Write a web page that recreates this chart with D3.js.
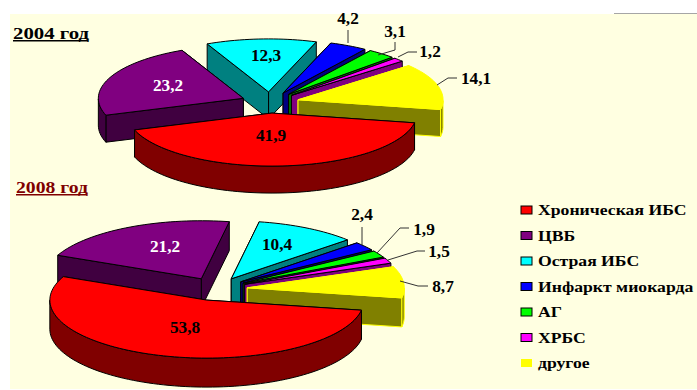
<!DOCTYPE html>
<html>
<head>
<meta charset="utf-8">
<script src="https://cdn.jsdelivr.net/npm/d3@7"></script>
<style>
html, body { margin: 0; padding: 0; background: #fff; }
svg { display: block; }
text { font-family: "Liberation Serif", serif; font-weight: bold; fill: #000; }
</style>
</head>
<body>
<svg id="chart" width="697" height="390"></svg>
<script>
// Causes of death, per cent, by survey year
const categories = ["Хроническая ИБС", "ЦВБ", "Острая ИБС", "Инфаркт миокарда", "АГ", "ХРБС", "другое"];
const values2004 = [41.9, 23.2, 12.3, 4.2, 3.1, 1.2, 14.1];
const values2008 = [53.8, 21.2, 10.4, 2.4, 1.9, 1.5, 8.7];
const topColors = ["#ff0000", "#800080", "#00ffff", "#0000ff", "#00ff00", "#ff00ff", "#ffff00"];
const sideColors = ["#800000", "#400040", "#008080", "#000080", "#008000", "#800080", "#808000"];
const edgeColors = ["#000", "#000", "#000", "#000", "#000", "#000", "#ffff00"];
const drawOrder2004 = [2, 3, 4, 5, 1, 6, 0];
const drawOrder2008 = [2, 3, 4, 5, 6, 1, 0];

const svg = d3.select("#chart");
const TAU = 2 * Math.PI;
const deg = d => d * Math.PI / 180;
const fmt = v => String(v).replace(".", ",");

svg.append("rect").attr("x", 10).attr("y", 14).attr("width", 687).attr("height", 375).attr("fill", "#ffffe1");
svg.append("line").attr("x1", 614).attr("x2", 697).attr("y1", 13.5).attr("y2", 13.5).attr("stroke", "#a6a6a6").attr("stroke-width", 1);

function stretchedText(g, x, y, str, size, fill, sx, anchor) {
  return g.append("text")
    .attr("transform", `translate(${x},${y}) scale(${sx},1)`)
    .attr("text-anchor", anchor || "middle")
    .attr("font-size", size)
    .style("fill", fill || "#000")
    .text(str);
}

function drawPie(cfg) {
  const g = svg.append("g");
  const arcs = d3.pie().sort(null)
    .startAngle(deg(cfg.start)).endAngle(deg(cfg.start) + TAU)(cfg.values);
  const sx = d3.scaleLinear().domain([-1, 1]).range([cfg.cx - cfg.rx, cfg.cx + cfg.rx]);
  const sy = d3.scaleLinear().domain([-1, 1]).range([cfg.cy - cfg.ry, cfg.cy + cfg.ry]);
  const line = d3.line();

  cfg.order.forEach(i => {
    const a = arcs[i];
    const mid = (a.startAngle + a.endAngle) / 2;
    const ox = cfg.explode * Math.sin(mid), oy = -cfg.explode * Math.cos(mid);
    const pt = (t, r = 1, drop = 0) => [
      sx(ox + r * Math.sin(t)),
      sy(oy - r * Math.cos(t)) + drop
    ];
    const steps = Math.max(4, Math.ceil((a.endAngle - a.startAngle) / deg(2)));
    const rimAngles = d3.range(steps + 1).map(k => a.startAngle + (a.endAngle - a.startAngle) * k / steps);
    const slice = g.append("g").attr("stroke", edgeColors[i]).attr("stroke-width", 1).attr("stroke-linejoin", "round");

    // cut faces: the one whose outer corner sits further back goes first
    [a.startAngle, a.endAngle]
      .sort((p, q) => pt(p)[1] - pt(q)[1])
      .forEach(t => {
        slice.append("path")
          .attr("fill", sideColors[i])
          .attr("d", line([pt(0, 0), pt(t), pt(t, 1, cfg.depth), pt(0, 0, cfg.depth)]) + "Z");
      });

    // outer wall, only over the part of the rim that faces the viewer
    // (the lower half of the ellipse, on either side of the full turn)
    const front = rimAngles.filter(t => Math.cos(t) <= 0.0001);
    if (front.length > 1) {
      const runs = [];
      let run = [];
      front.forEach((t, k) => {
        if (k && t - front[k - 1] > deg(3)) { runs.push(run); run = []; }
        run.push(t);
      });
      runs.push(run);
      runs.forEach(r => {
        const pts = r.map(t => pt(t)).concat(r.slice().reverse().map(t => pt(t, 1, cfg.depth)));
        slice.append("path").attr("fill", sideColors[i]).attr("d", line(pts) + "Z");
      });
    }

    // top surface
    slice.append("path")
      .attr("fill", topColors[i])
      .attr("d", line([pt(0, 0)].concat(rimAngles.map(t => pt(t)))) + "Z");
  });

  // leader lines from small slices to their values
  cfg.leaders.forEach(path => {
    g.append("path").attr("d", line(path)).attr("fill", "none").attr("stroke", "#333").attr("stroke-width", 1);
  });

  cfg.values.forEach((v, i) => {
    const p = cfg.labels[i];
    stretchedText(g, p[0], p[1], fmt(v), 16, i === 1 ? "#fff" : "#000", 1.08);
  });
}

// Upper pie, 2004
drawPie({
  values: values2004, start: 100.6, order: drawOrder2004,
  cx: 270, cy: 102.5, rx: 145, ry: 53, explode: 0.2, depth: 27,
  labels: [[271, 141], [168, 91], [266, 61], [348, 24], [395, 37], [430, 57], [476, 84]],
  leaders: [
    [[348, 43], [348, 30]],
    [[378, 55], [395, 50], [395, 42]],
    [[398, 57], [408, 52], [417, 52]],
    [[437, 85], [448, 78], [457, 78]]
  ]
});

// Lower pie, 2008
drawPie({
  values: values2008, start: 100, order: drawOrder2008,
  cx: 216, cy: 289, rx: 157, ry: 58, explode: 0.2, depth: 29,
  labels: [[185, 333], [165, 252], [277, 250], [362, 220], [424, 235], [439, 257], [443, 292]],
  leaders: [
    [[362, 245], [362, 227]],
    [[377, 253], [400, 228], [409, 228]],
    [[388, 260], [417, 251], [425, 251]],
    [[400, 281], [418, 286], [428, 286]]
  ]
});

// Year captions
[["2004 год", 13, 38.5, "#000", 1.3, 75, 40], ["2008 год", 16, 192.5, "#800000", 1.23, 71, 194]].forEach(([s, x, y, c, k, w, uy]) => {
  stretchedText(svg, x, y, s, 16, c, k, "start");
  svg.append("rect").attr("x", x).attr("y", uy).attr("width", w).attr("height", 1.5).attr("fill", c);
});

// Legend
const legend = svg.append("g");
const legendY = d3.scalePoint().domain(categories).range([210, 363]);
categories.forEach((name, i) => {
  const y = legendY(name);
  legend.append("rect")
    .attr("x", 521).attr("y", y - 4).attr("width", 11).attr("height", 8)
    .attr("fill", topColors[i])
    .attr("stroke", edgeColors[i] === "#000" ? "#000" : "none");
  stretchedText(legend, 538, y + 5, name, 14.5, "#000", 1.22, "start");
});
</script>
</body>
</html>
